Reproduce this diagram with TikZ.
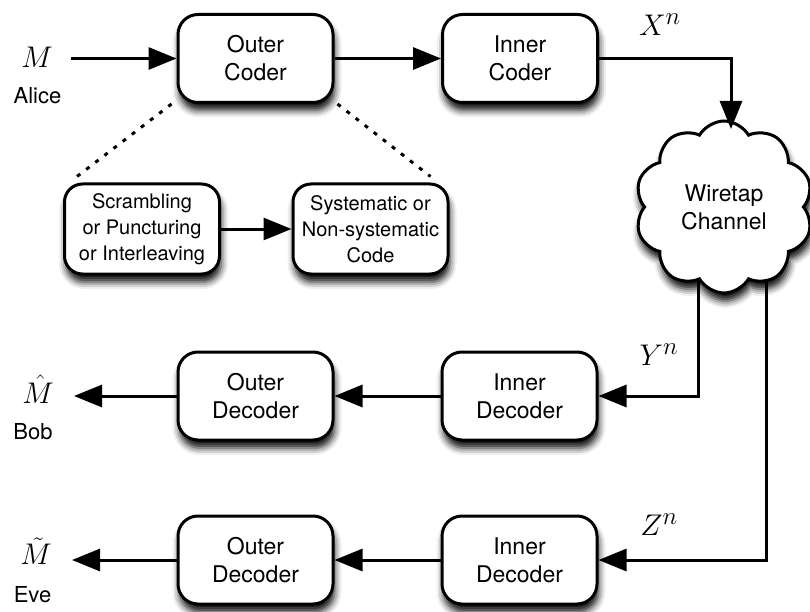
\documentclass[tikz,border=0pt]{standalone}
\usepackage{fontspec}
\setmainfont{TeX Gyre Heros}
\usetikzlibrary{arrows.meta,shapes.symbols,shadows.blur}
\pgfdeclarelayer{wires}
\pgfsetlayers{wires,main}

\begin{document}
\begin{tikzpicture}[x=1pt,y=-1pt,
  softshadow/.style={blur shadow={shadow xshift=1.5pt,shadow yshift=-8pt,
      shadow blur radius=7pt,shadow opacity=95}},
  box/.style={draw,line width=3pt,rounded corners=20pt,fill=white,
      minimum width=155pt,minimum height=88pt,inner sep=0pt,align=center,
      font=\fontsize{23}{28}\selectfont,softshadow},
  subbox/.style={box,rounded corners=18pt,minimum height=90pt,
      font=\fontsize{20}{26}\selectfont},
  wire/.style={line width=3pt},
  arr/.style={wire,-{Triangle[length=28pt,width=22pt]}},
  link/.style={line width=3pt,dash pattern=on 4pt off 7.5pt},
  who/.style={font=\fontsize{22}{26}\selectfont,inner sep=0pt},
  sym/.style={font=\fontsize{24.88}{30}\selectfont,inner sep=0pt,scale=1.2}
]
\useasboundingbox (0,0) rectangle (810,612);

% encoder chain
\node[box] (oc) at (255.5,58.5) {Outer\\Coder};
\node[box] (ic) at (520,58.5) {Inner\\Coder};

% inside the outer coder
\node[subbox] (scr) at (142,229) {Scrambling\\or Puncturing\\or Interleaving};
\node[subbox] (sys) at (370.5,229) {Systematic or\\Non-systematic\\Code};

% channel
\node[cloud,cloud puffs=10,cloud puff arc=120,cloud ignores aspect,
      minimum width=178pt,minimum height=172pt,inner sep=0pt,
      draw,line width=3pt,fill=white,softshadow,align=center,
      font=\fontsize{23}{28}\selectfont] (ch) at (724,207) {Wiretap\\Channel};

% decoder chains
\node[box] (bid) at (519.5,396) {Inner\\Decoder};
\node[box] (bod) at (255.5,396) {Outer\\Decoder};
\node[box] (eid) at (519.5,560) {Inner\\Decoder};
\node[box] (eod) at (255.5,560) {Outer\\Decoder};

% end points and their labels
\node[sym] (m) at (37,57) {$M$};
\node[who] (alice) at (37.5,96) {Alice};
\node[sym] (mh) at (38,389) {$\hat{M}$};
\node[who] (bob) at (33,432) {Bob};
\node[sym] (mt) at (36,551) {$\tilde{M}$};
\node[who] (eve) at (32.5,595) {Eve};

\node[sym] (xn) at (660,25) {$X^n$};
\node[sym] (yn) at (659,355) {$Y^n$};
\node[sym] (zn) at (659,525) {$Z^n$};

\coordinate (min) at (71,58.5);
\coordinate (bobout) at (74,396);
\coordinate (eveout) at (72,560);
\coordinate (xin) at (731,129);
\coordinate (ytap) at (698,250);
\coordinate (ztap) at (766,250);

% forward path
\draw[arr] (min) -- (oc.west);
\draw[arr] (oc.east) -- (ic.west);
\draw[arr] (ic.east) -| (xin);

% detail of the outer coder
\draw[link] ([xshift=-5pt]oc.south west) -- ([xshift=14pt,yshift=6pt]scr.north west);
\draw[link] ([xshift=3pt]oc.south east) -- ([xshift=-19pt,yshift=6pt]sys.north east);
\draw[arr] (scr.east) -- (sys.west);

% channel outputs, tucked under the cloud
\begin{pgfonlayer}{wires}
\draw[arr] (ytap) |- (bid.east);
\draw[arr] (ztap) |- (eid.east);
\end{pgfonlayer}

% receivers
\draw[arr] (bid.west) -- (bod.east);
\draw[arr] (bod.west) -- (bobout);
\draw[arr] (eid.west) -- (eod.east);
\draw[arr] (eod.west) -- (eveout);
\end{tikzpicture}
\end{document}
